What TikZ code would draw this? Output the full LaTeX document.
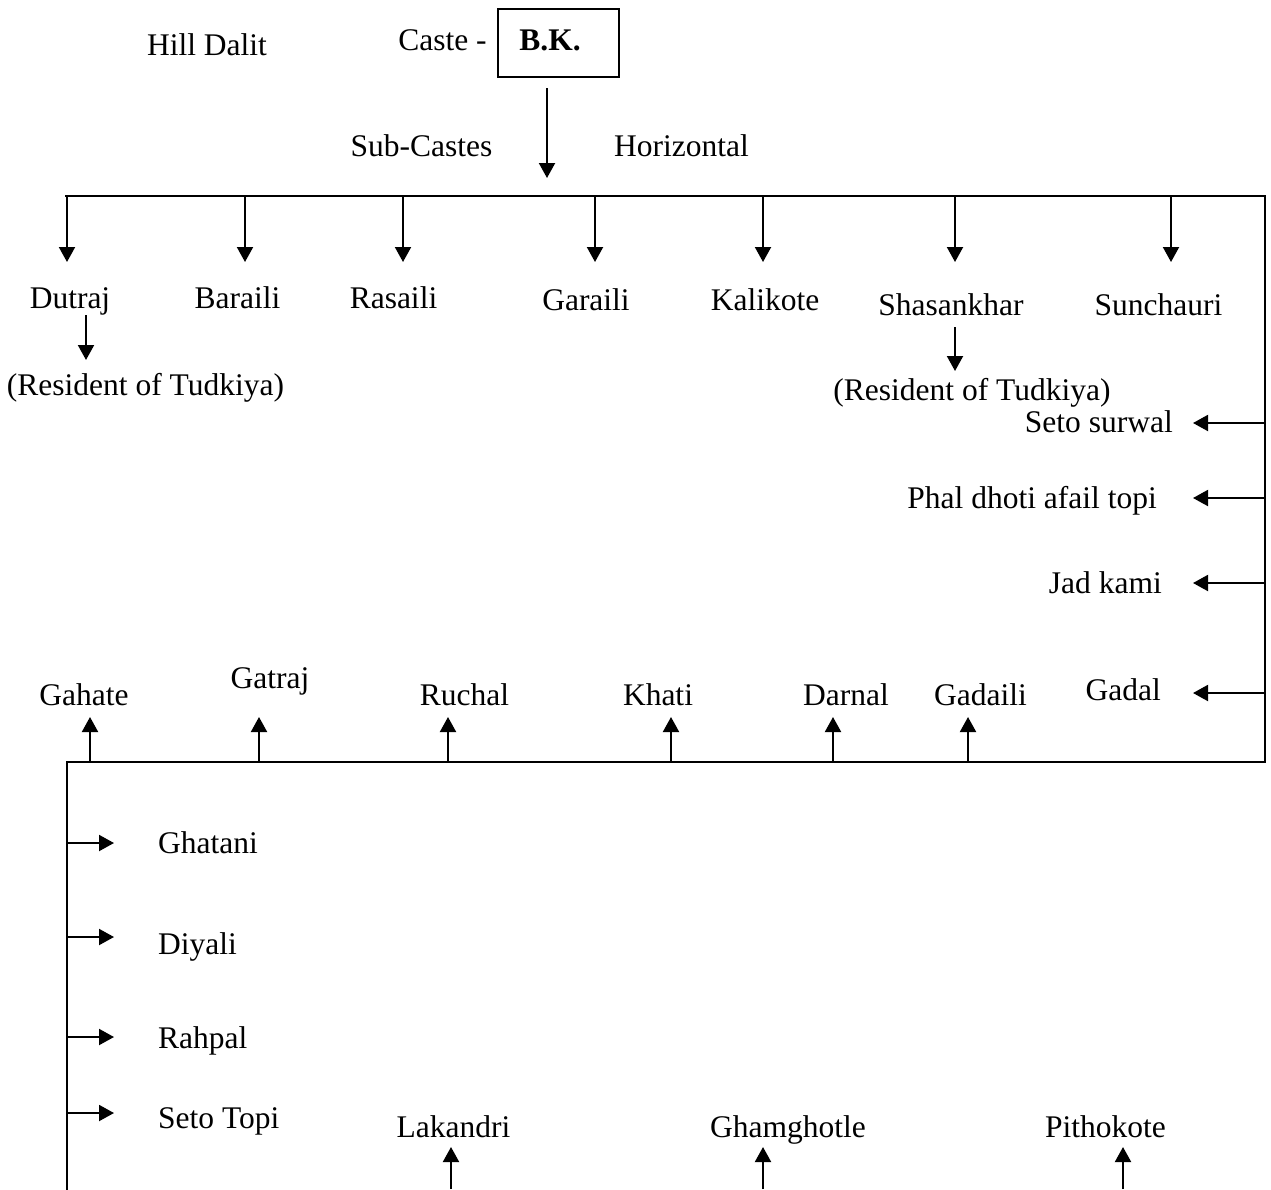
\documentclass[tikz,border=0pt]{standalone}
\usepackage{fontspec}
\setmainfont{Liberation Serif}
\usetikzlibrary{arrows.meta}
\begin{document}
\begin{tikzpicture}[x=1pt,y=-1pt,
  lbl/.style={anchor=base,inner sep=0pt,font=\fontsize{31.5}{36}\selectfont},
  lblr/.style={lbl,anchor=base east},
  lbll/.style={lbl,anchor=base west},
  ln/.style={line width=2pt,line cap=rect},
  arr/.style={line width=2pt,-{Triangle[length=15pt,width=16pt]}}]
\useasboundingbox (0,0) rectangle (1271,1189);

% heading
\node[lbl] (hill) at (207,55) {Hill Dalit};
\node[lbl] (caste) at (442.5,50) {Caste -};
\node[draw,line width=2pt,minimum width=121pt,minimum height=68pt,inner sep=0pt] (bkbox) at (558.5,43) {};
\node[lbl] (bk) at (550,50) {\textbf{B.K.}};
\node[lbl] (subc) at (421.5,156) {Sub-Castes};
\node[lbl] (horiz) at (681.5,156) {Horizontal};
\coordinate (ca) at (547,88);
\coordinate (cb) at (547,178);
\draw[arr] (ca) -- (cb);

% frame lines
\coordinate (tl) at (66,196);
\coordinate (tr) at (1265,196);
\coordinate (br) at (1265,762);
\coordinate (bl) at (67,762);
\coordinate (bb) at (67,1189);
\draw[ln] (tl) -- (tr) -- (br) -- (bl) -- (bb);

% first row of sub-castes
\node[lbl] (dutraj) at (70,308) {Dutraj};
\node[lbl] (baraili) at (237.5,308) {Baraili};
\node[lbl] (rasaili) at (393.5,308) {Rasaili};
\node[lbl] (garaili) at (586,310) {Garaili};
\node[lbl] (kalikote) at (765,310) {Kalikote};
\node[lbl] (shasan) at (951,315) {Shasankhar};
\node[lbl] (sunch) at (1158.5,315) {Sunchauri};
\foreach \n/\x in {d1/67,d2/245,d3/403,d4/595,d5/763,d6/955,d7/1171}{
  \coordinate (\n a) at (\x,196);
  \coordinate (\n b) at (\x,262);
  \draw[arr] (\n a) -- (\n b);
}

% residence notes
\node[lbl] (resl) at (145.5,395) {(Resident of Tudkiya)};
\node[lbl] (resr) at (972,400) {(Resident of Tudkiya)};
\coordinate (ra1) at (86,315);
\coordinate (rb1) at (86,360);
\coordinate (ra2) at (955,327);
\coordinate (rb2) at (955,371);
\draw[arr] (ra1) -- (rb1);
\draw[arr] (ra2) -- (rb2);

% right side branches
\node[lblr] (seto) at (1173,432) {Seto surwal};
\node[lblr] (phal) at (1157,508) {Phal dhoti afail topi};
\node[lblr] (jad) at (1162,593) {Jad kami};
\node[lblr] (gadal) at (1161,700) {Gadal};
\foreach \n/\y in {s1/423,s2/498,s3/583,s4/693}{
  \coordinate (\n a) at (1265,\y);
  \coordinate (\n b) at (1193,\y);
  \draw[arr] (\n a) -- (\n b);
}

% second row of sub-castes
\node[lbl] (gahate) at (84,705) {Gahate};
\node[lbl] (gatraj) at (270,688) {Gatraj};
\node[lbl] (ruchal) at (464.5,705) {Ruchal};
\node[lbl] (khati) at (658,705) {Khati};
\node[lbl] (darnal) at (846,705) {Darnal};
\node[lbl] (gadaili) at (980.5,705) {Gadaili};
\foreach \n/\x in {u1/90,u2/259,u3/448,u4/671,u5/833,u6/968}{
  \coordinate (\n a) at (\x,762);
  \coordinate (\n b) at (\x,717);
  \draw[arr] (\n a) -- (\n b);
}

% left side branches
\node[lbll] (ghatani) at (158,853) {Ghatani};
\node[lbll] (diyali) at (158,954) {Diyali};
\node[lbll] (rahpal) at (158,1048) {Rahpal};
\node[lbll] (setotopi) at (158,1128) {Seto Topi};
\foreach \n/\y in {l1/843,l2/937,l3/1037,l4/1113}{
  \coordinate (\n a) at (67,\y);
  \coordinate (\n b) at (114,\y);
  \draw[arr] (\n a) -- (\n b);
}

% bottom row
\node[lbl] (lakandri) at (453.5,1137) {Lakandri};
\node[lbl] (gham) at (788,1137) {Ghamghotle};
\node[lbl] (pitho) at (1105.5,1137) {Pithokote};
\foreach \n/\x in {b1/451,b2/763,b3/1123}{
  \coordinate (\n a) at (\x,1189);
  \coordinate (\n b) at (\x,1147);
  \draw[arr] (\n a) -- (\n b);
}
\end{tikzpicture}
\end{document}
